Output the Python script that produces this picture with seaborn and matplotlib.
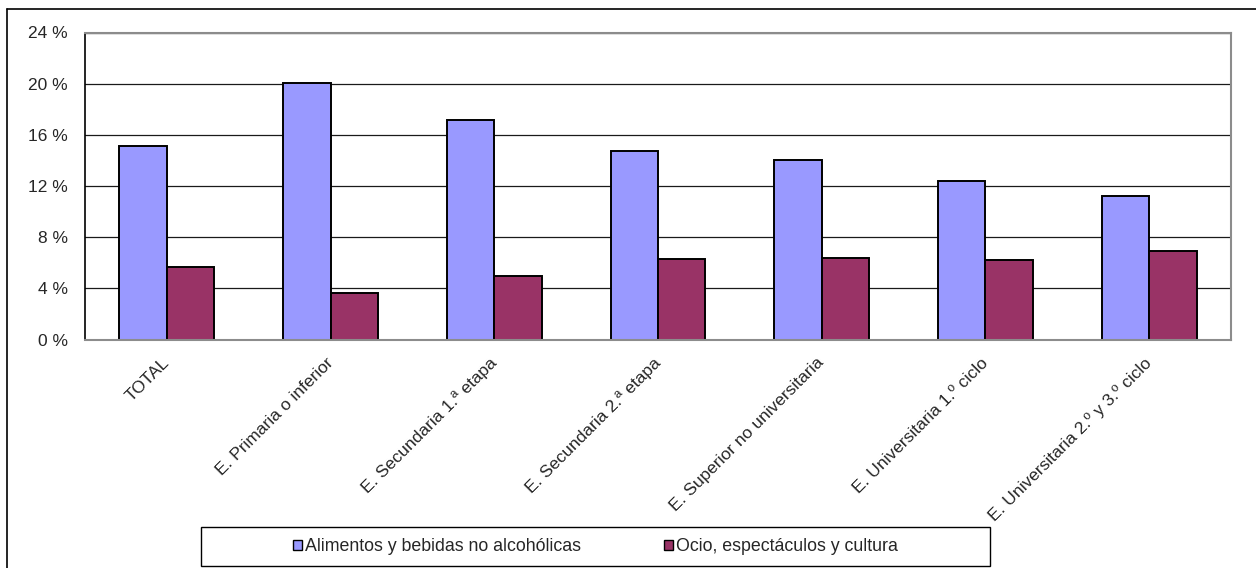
import matplotlib
matplotlib.use("Agg")
import matplotlib.pyplot as plt
import matplotlib.patches as mpatches
import matplotlib.lines as mlines
from matplotlib.ticker import FixedLocator
import seaborn as sns
import pandas as pd

categories = ["TOTAL", "E. Primaria o inferior", "E. Secundaria 1.ª etapa",
              "E. Secundaria 2.ª etapa", "E. Superior no universitaria",
              "E. Universitaria 1.º ciclo", "E. Universitaria 2.º y 3.º ciclo"]
series_names = ["Alimentos y bebidas no alcohólicas", "Ocio, espectáculos y cultura"]
alimentos = [15.1, 20.05, 17.15, 14.7, 14.05, 12.4, 11.25]
ocio = [5.65, 3.62, 4.95, 6.28, 6.38, 6.22, 6.92]
y_ticks = [0, 4, 8, 12, 16, 20, 24]
colors = ["#9999FF", "#993366"]

df = pd.DataFrame({
    "cat": categories * 2,
    "serie": [series_names[0]] * len(categories) + [series_names[1]] * len(categories),
    "val": alimentos + ocio,
})

sns.set_style("white")
plt.rcParams["font.family"] = ["Liberation Sans", "DejaVu Sans"]

W, H = 1256, 568
fig = plt.figure(figsize=(W / 100, H / 100), dpi=100)
ax = fig.add_axes([85 / W, 1 - 339.5 / H, (1231 - 85) / W, (339.5 - 32.5) / H])

sns.barplot(data=df, x="cat", y="val", hue="serie", order=categories,
            hue_order=series_names, palette=colors, width=0.58,
            edgecolor="black", linewidth=1.4, saturation=1, ax=ax, legend=False)

FS = 12.5
ax.set_xlim(-0.5, len(categories) - 0.5)
ax.set_ylim(0, 24)
ax.yaxis.set_major_locator(FixedLocator(y_ticks))
ax.set_yticklabels([f"{v} %" for v in y_ticks], fontsize=FS)
ax.yaxis.grid(True, color="#1a1a1a", linewidth=0.9)
ax.set_axisbelow(True)
ax.set_xlabel("")
ax.set_ylabel("")

# x tick labels at centres, tick marks at boundaries
ax.set_xticks(range(len(categories)))
ax.set_xticklabels(categories, rotation=45, ha="right", va="center",
                   rotation_mode="anchor", fontsize=FS)
ax.tick_params(axis="x", which="major", length=0, pad=15)
ax.set_xticks([i - 0.5 for i in range(len(categories) + 1)], minor=True)
ax.tick_params(axis="x", which="minor", length=3, width=1, color="#404040", direction="out")
ax.tick_params(axis="y", which="major", length=5.8, width=1, color="black", direction="out", pad=6.5)

for s in ["top", "right", "bottom"]:
    ax.spines[s].set_color("#8c8c8c")
    ax.spines[s].set_linewidth(1.5)
ax.spines["left"].set_color("black")
ax.spines["left"].set_linewidth(1.2)

# outer chart frame (partly cropped)
fig.add_artist(mlines.Line2D([6.5 / W, 6.5 / W], [0, 1 - 9 / H], color="black", lw=1.2,
                             transform=fig.transFigure))
fig.add_artist(mlines.Line2D([6.5 / W, 1], [1 - 9 / H, 1 - 9 / H], color="black", lw=1.2,
                             transform=fig.transFigure))

# legend box
lx0, ly0, lx1, ly1 = 201, 527, 990, 566
fig.add_artist(mpatches.Rectangle((lx0 / W, 1 - ly1 / H), (lx1 - lx0) / W, (ly1 - ly0) / H,
                                  transform=fig.transFigure, facecolor="white",
                                  edgecolor="black", linewidth=1.0))
handles = [mpatches.Patch(facecolor=c, edgecolor="black", linewidth=1.0) for c in colors]
fig.legend(handles, series_names, ncol=2, loc="center",
           bbox_to_anchor=((lx0 + lx1) / 2 / W, 1 - (ly0 + ly1) / 2 / H),
           frameon=False, fontsize=12.8, handlelength=0.5, handleheight=0.5,
           handletextpad=0.17, columnspacing=4.67, borderpad=0)

fig.savefig("out.png", dpi=100)
